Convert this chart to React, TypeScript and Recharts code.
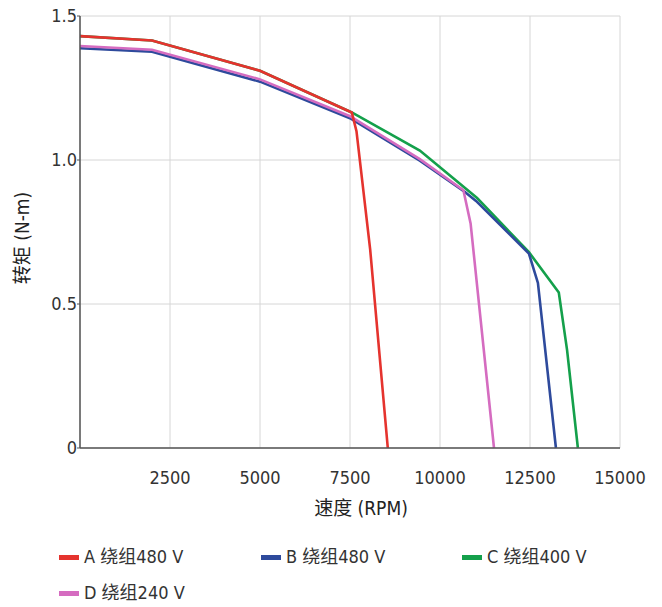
import React from "react";
import { LineChart, Line, XAxis, YAxis, CartesianGrid } from "recharts";

// 速度 (RPM) / 转矩 (N-m) curves
const seriesA = [
  { rpm: 0, torque: 1.43 },
  { rpm: 2000, torque: 1.415 },
  { rpm: 5000, torque: 1.31 },
  { rpm: 7550, torque: 1.165 },
  { rpm: 7680, torque: 1.1 },
  { rpm: 8060, torque: 0.69 },
  { rpm: 8550, torque: 0 },
];
const seriesB = [
  { rpm: 0, torque: 1.388 },
  { rpm: 2000, torque: 1.376 },
  { rpm: 5000, torque: 1.272 },
  { rpm: 7500, torque: 1.145 },
  { rpm: 9440, torque: 0.998 },
  { rpm: 10650, torque: 0.893 },
  { rpm: 11000, torque: 0.858 },
  { rpm: 12470, torque: 0.675 },
  { rpm: 12720, torque: 0.573 },
  { rpm: 13220, torque: 0 },
];
const seriesC = [
  { rpm: 0, torque: 1.43 },
  { rpm: 2000, torque: 1.415 },
  { rpm: 5000, torque: 1.31 },
  { rpm: 7550, torque: 1.165 },
  { rpm: 9440, torque: 1.033 },
  { rpm: 11030, torque: 0.868 },
  { rpm: 12470, torque: 0.68 },
  { rpm: 13300, torque: 0.54 },
  { rpm: 13530, torque: 0.34 },
  { rpm: 13830, torque: 0 },
];
const seriesD = [
  { rpm: 0, torque: 1.396 },
  { rpm: 2000, torque: 1.383 },
  { rpm: 5000, torque: 1.28 },
  { rpm: 7500, torque: 1.152 },
  { rpm: 9440, torque: 1.003 },
  { rpm: 10650, torque: 0.895 },
  { rpm: 10850, torque: 0.78 },
  { rpm: 11500, torque: 0 },
];

const xTicks = [2500, 5000, 7500, 10000, 12500, 15000];
const yTicks = [0, 0.5, 1.0, 1.5];

const legendItems = [
  { label: "A 绕组480 V", color: "#e5332e" },
  { label: "B 绕组480 V", color: "#2e4a9c" },
  { label: "C 绕组400 V", color: "#14a04b" },
  { label: "D 绕组240 V", color: "#d56cc0" },
];

const FONT = '"DejaVu Sans Condensed", "Noto Sans CJK SC", sans-serif';

function ChartLegend() {
  return (
    <div
      style={{
        position: "absolute",
        left: 59,
        top: 546,
        display: "grid",
        gridTemplateColumns: "202px 201px 180px",
        rowGap: 14,
        fontFamily: FONT,
        fontSize: 18,
        color: "#333",
        lineHeight: "22px",
      }}
    >
      {legendItems.map((it) => (
        <div key={it.label} style={{ display: "flex", alignItems: "center" }}>
          <span
            style={{
              display: "inline-block",
              width: 20,
              height: 5,
              background: it.color,
              marginRight: 5,
            }}
          />
          <span>{it.label}</span>
        </div>
      ))}
    </div>
  );
}

export default function App() {
  return (
    <div style={{ position: "absolute", left: 0, top: 0, width: 662, height: 607, background: "#fff" }}>
      <LineChart width={662} height={607} margin={{ top: 16, right: 42, left: 0, bottom: 129 }}>
        <CartesianGrid stroke="#d6d6d6" strokeWidth={1} />
        <XAxis
          type="number"
          dataKey="rpm"
          domain={[0, 15000]}
          ticks={xTicks}
          tickLine={false}
          tickMargin={17}
          axisLine={{ stroke: "#555", strokeWidth: 1.5 }}
          tick={{ fontFamily: FONT, fontSize: 18, fill: "#333" }}
          allowDuplicatedCategory={false}
          height={30}
          label={{
            content: () => (
              <text x={361} y={515} textAnchor="middle" fontFamily={FONT} fontSize={19} fill="#222">
                速度 (RPM)
              </text>
            ),
          }}
        />
        <YAxis
          type="number"
          domain={[0, 1.5]}
          ticks={yTicks}
          width={80}
          tickSize={3}
          tickMargin={0}
          tickLine={{ stroke: "#555" }}
          axisLine={{ stroke: "#555", strokeWidth: 1.5 }}
          tickFormatter={(v: number) => (v === 0 ? "0" : v.toFixed(1))}
          tick={{ fontFamily: FONT, fontSize: 18, fill: "#333" }}
          label={{
            content: () => (
              <text
                x={29}
                y={238}
                transform="rotate(-90 29 238)"
                textAnchor="middle"
                fontFamily={FONT}
                fontSize={19}
                fill="#222"
              >
                转矩 (N-m)
              </text>
            ),
          }}
        />
        <Line data={seriesC} dataKey="torque" stroke={legendItems[2].color} strokeWidth={2.6} dot={false} isAnimationActive={false} />
        <Line data={seriesB} dataKey="torque" stroke={legendItems[1].color} strokeWidth={2.6} dot={false} isAnimationActive={false} />
        <Line data={seriesD} dataKey="torque" stroke={legendItems[3].color} strokeWidth={2.6} dot={false} isAnimationActive={false} />
        <Line data={seriesA} dataKey="torque" stroke={legendItems[0].color} strokeWidth={2.6} dot={false} isAnimationActive={false} />
      </LineChart>
      <ChartLegend />
    </div>
  );
}
